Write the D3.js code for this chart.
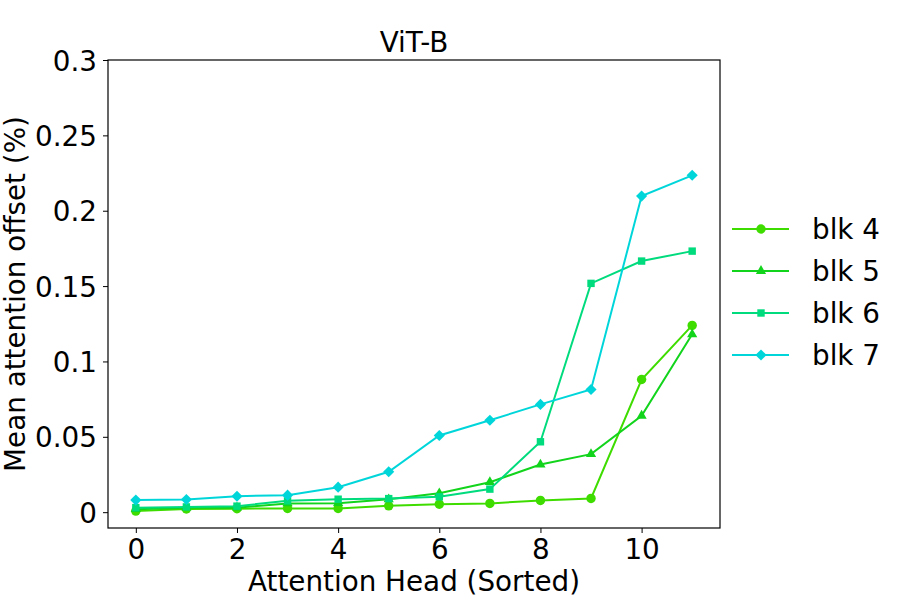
<!DOCTYPE html>
<html>
<head>
<meta charset="utf-8">
<script src="https://cdn.jsdelivr.net/npm/d3@7"></script>
<style>
  body { margin: 0; background: #fff; }
  svg text { font-family: "DejaVu Sans", sans-serif; fill: #000; }
</style>
</head>
<body>
<div id="chart"></div>
<script>
// ── Datos ────────────────────────────────────────────────
const heads  = [0, 1, 2, 3, 4, 5, 6, 7, 8, 9, 10, 11];
const blk4   = [0.0007, 0.0021, 0.0023, 0.0025, 0.0025, 0.0042, 0.0053, 0.0058, 0.0078, 0.0091, 0.088, 0.1239];
const blk5   = [0.002, 0.003, 0.003, 0.0058, 0.006, 0.0085, 0.0125, 0.0199, 0.0316, 0.0385, 0.064, 0.118];
const blk6   = [0.003, 0.0035, 0.004, 0.0075, 0.0086, 0.009, 0.0102, 0.0153, 0.0467, 0.1518, 0.1666, 0.1732];
const blk7   = [0.008, 0.0084, 0.0106, 0.0113, 0.0166, 0.0268, 0.0509, 0.061, 0.0715, 0.0814, 0.2097, 0.2235];
const seriesNames = ['blk 4', 'blk 5', 'blk 6', 'blk 7'];
const xTicks = [0, 2, 4, 6, 8, 10];
const yTicks = [0, 0.05, 0.1, 0.15, 0.2, 0.25, 0.3];

// rombo tipo matplotlib 'D' = cuadrado girado 45°
const series = [
    { name: seriesNames[0], values: blk4, color: '#3fdc00', marker: d3.symbolCircle,   size: 70, rot: 0 },
    { name: seriesNames[1], values: blk5, color: '#12d41c', marker: d3.symbolTriangle, size: 45, rot: 0 },
    { name: seriesNames[2], values: blk6, color: '#00db7e', marker: d3.symbolSquare,   size: 55, rot: 0 },
    { name: seriesNames[3], values: blk7, color: '#00d6da', marker: d3.symbolSquare,   size: 62, rot: 45 }
];

const FS = '27.8px';

// ── Lienzo ───────────────────────────────────────────────
const W = 900, H = 600;
const plot = { left: 108, right: 720, top: 60, bottom: 528 };

const svg = d3.select('#chart').append('svg')
    .attr('width', W).attr('height', H);

const x = d3.scaleLinear().domain([-0.55, 11.55]).range([plot.left, plot.right]);
const y = d3.scaleLinear().domain([-0.0105, 0.3]).range([plot.bottom, plot.top]);

// Ejes
const xAxis = svg.append('g')
    .attr('transform', `translate(0,${plot.bottom})`)
    .call(d3.axisBottom(x).tickValues(xTicks).tickFormat(d3.format('d')).tickSize(5).tickPadding(6));
const yAxis = svg.append('g')
    .attr('transform', `translate(${plot.left},0)`)
    .call(d3.axisLeft(y).tickValues(yTicks).tickFormat(d => d === 0 ? '0' : String(+d.toFixed(2))).tickSize(5).tickPadding(6));

[xAxis, yAxis].forEach(a => {
    a.select('.domain').remove();
    a.selectAll('.tick line').attr('stroke', '#000').attr('stroke-width', 1);
    a.selectAll('.tick text').style('font-size', FS).style('font-family', '"DejaVu Sans", sans-serif');
});
yAxis.selectAll('.tick text').attr('dy', '0.36em');

// Marco
svg.append('rect')
    .attr('x', plot.left).attr('y', plot.top)
    .attr('width', plot.right - plot.left).attr('height', plot.bottom - plot.top)
    .attr('fill', 'none').attr('stroke', '#000').attr('stroke-width', 1.2);

// Líneas + marcadores
const line = d3.line().x((d, i) => x(heads[i])).y(d => y(d));
series.forEach(s => {
    svg.append('path')
        .datum(s.values)
        .attr('d', line)
        .attr('fill', 'none')
        .attr('stroke', s.color)
        .attr('stroke-width', 2);
    svg.append('g').selectAll('path').data(s.values).join('path')
        .attr('transform', (d, i) => `translate(${x(heads[i])},${y(d)}) rotate(${s.rot})`)
        .attr('d', d3.symbol().type(s.marker).size(s.size))
        .attr('fill', s.color);
});

// Títulos
svg.append('text')
    .attr('x', (plot.left + plot.right) / 2).attr('y', 52)
    .attr('text-anchor', 'middle')
    .style('font-size', FS)
    .text('ViT-B');

svg.append('text')
    .attr('x', (plot.left + plot.right) / 2).attr('y', 591)
    .attr('text-anchor', 'middle')
    .style('font-size', FS)
    .text('Attention Head (Sorted)');

svg.append('text')
    .attr('transform', `translate(15,${(plot.top + plot.bottom) / 2}) rotate(-90)`)
    .attr('text-anchor', 'middle')
    .attr('dy', '0.35em')
    .style('font-size', FS)
    .text('Mean attention offset (%)');

// Leyenda
const legend = svg.append('g').attr('transform', 'translate(732,229)');
series.forEach((s, i) => {
    const row = legend.append('g').attr('transform', `translate(0,${i * 42})`);
    row.append('line')
        .attr('x1', 0).attr('x2', 57).attr('y1', 0).attr('y2', 0)
        .attr('stroke', s.color).attr('stroke-width', 2);
    row.append('path')
        .attr('transform', `translate(29,0) rotate(${s.rot})`)
        .attr('d', d3.symbol().type(s.marker).size(s.size))
        .attr('fill', s.color);
    row.append('text')
        .attr('x', 80).attr('y', 0).attr('dy', '0.36em')
        .style('font-size', FS)
        .text(s.name);
});
</script>
</body>
</html>
